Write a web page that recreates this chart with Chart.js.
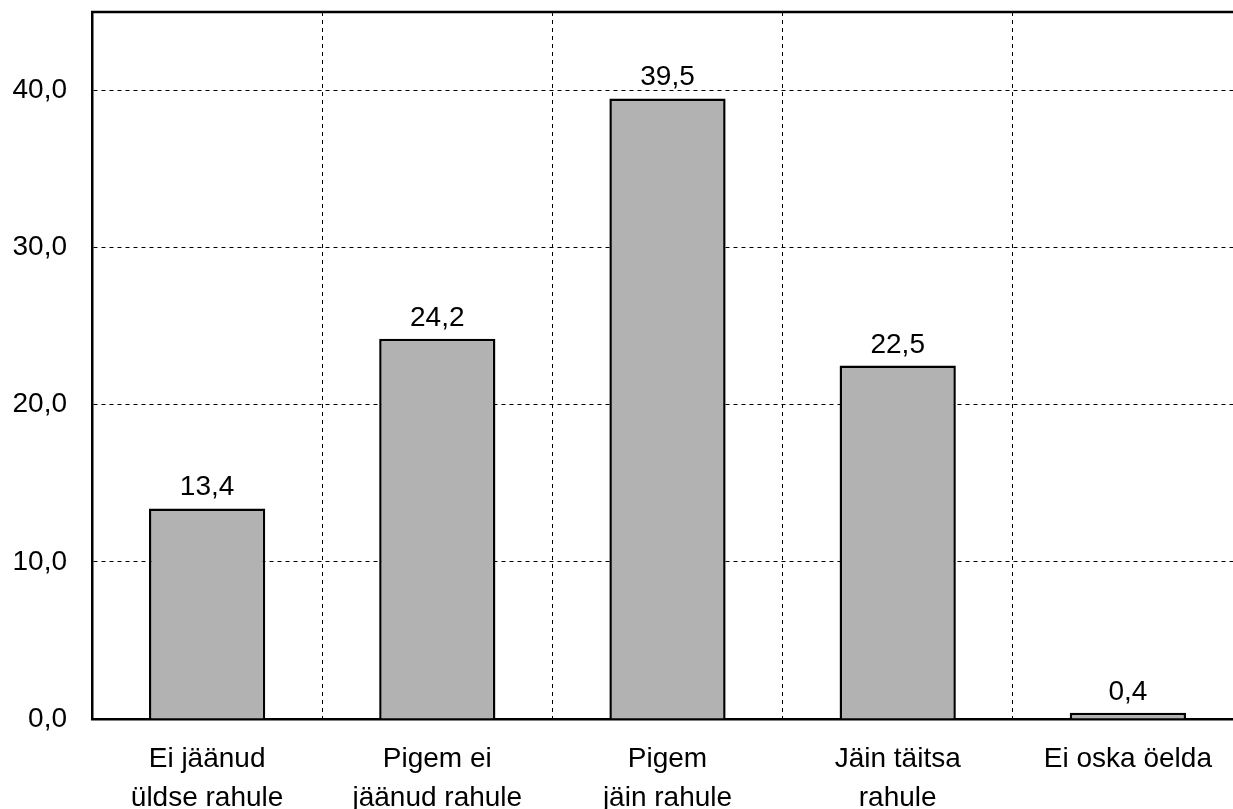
<!DOCTYPE html>
<html><head><meta charset="utf-8">
<script src="https://cdn.jsdelivr.net/npm/chart.js@4/dist/chart.umd.min.js"></script>
<style>html,body{margin:0;padding:0;background:#fff;overflow:hidden;width:1233px;height:809px}#wrap{width:1262px;height:809px}</style>
</head><body><div id="wrap"><canvas id="c" width="1262" height="809"></canvas></div>
<script>
const categories = [["Ei jäänud","üldse rahule"],["Pigem ei","jäänud rahule"],["Pigem","jäin rahule"],["Jäin täitsa","rahule"],["Ei oska öelda"]];
const values = [13.4, 24.2, 39.5, 22.5, 0.4];
const yTicks = [0, 10, 20, 30, 40];
const FONT = "'Liberation Sans', Arial, sans-serif";
const fmt = v => v.toFixed(1).replace('.', ',');

const frame = {
  id: 'frame',
  afterDraw(chart) {
    const {ctx, chartArea: a} = chart;
    ctx.save();
    ctx.strokeStyle = '#000'; ctx.lineWidth = 2.5;
    ctx.beginPath(); ctx.moveTo(a.left - 1, a.top); ctx.lineTo(a.right, a.top); ctx.stroke();
    ctx.restore();
  }
};
const labels = {
  id: 'vlabels',
  afterDatasetsDraw(chart) {
    const {ctx} = chart;
    const meta = chart.getDatasetMeta(0);
    ctx.save();
    ctx.font = '28px ' + FONT; ctx.fillStyle = '#000';
    ctx.textAlign = 'center'; ctx.textBaseline = 'alphabetic';
    meta.data.forEach((bar, i) => {
      ctx.fillText(fmt(values[i]), bar.x, bar.y - 13);
    });
    ctx.restore();
  }
};

new Chart(document.getElementById('c'), {
  type: 'bar',
  data: { labels: categories, datasets: [{ data: values, backgroundColor: '#b2b2b2', borderColor: '#000', borderWidth: 2.5, categoryPercentage: 1, barPercentage: 0.505 }] },
  options: {
    responsive: false, animation: false,
    layout: { padding: { top: 12, right: 19, left: 0, bottom: 0 } },
    plugins: { legend: { display: false }, tooltip: { enabled: false } },
    scales: {
      x: {
        grid: { offset: true, color: '#000', lineWidth: 1, drawTicks: false },
        border: { display: true, color: '#000', width: 2.5, dash: [4, 4] },
        ticks: { color: '#000', font: { family: FONT, size: 28, lineHeight: 1.42 }, padding: 20, maxRotation: 0, autoSkip: false },
        afterFit(s) { s.height = 90; s.paddingLeft = 0; s.paddingRight = 0; }
      },
      y: {
        min: 0, max: 45,
        afterBuildTicks(s) { s.ticks = yTicks.map(v => ({ value: v })); },
        grid: { color: '#000', lineWidth: 1, drawTicks: false },
        border: { display: true, color: '#000', width: 2.5, dash: [4, 4] },
        ticks: { color: '#000', font: { family: FONT, size: 28 }, padding: 25, callback: v => fmt(v) },
        afterFit(s) { s.width = 92; s.paddingTop = 0; s.paddingBottom = 0; }
      }
    }
  },
  plugins: [frame, labels]
});
</script></body></html>
